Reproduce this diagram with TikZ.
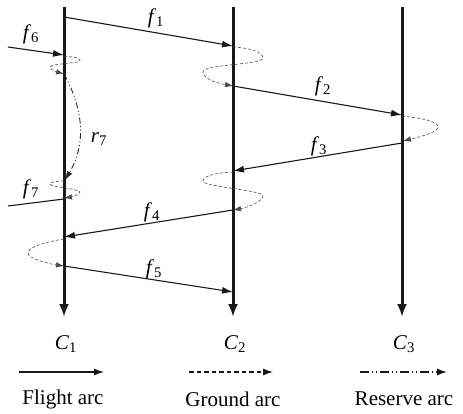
\documentclass[tikz,border=0pt]{standalone}
\usepackage{fontspec}
\setmainfont{Liberation Serif}
\usetikzlibrary{arrows.meta}
\newcommand\lbl[2]{\textit{#1}\textsubscript{#2}}
\begin{document}
\begin{tikzpicture}[x=1pt,y=1pt,
  axisline/.style={line width=3pt,draw=black!90,-{Latex[length=13pt,width=10pt]}},
  flight/.style={line width=1.1pt,draw=black!90,-{Latex[length=11pt,width=7pt]}},
  flightplain/.style={line width=1.1pt,draw=black!90},
  ground/.style={line width=0.6pt,draw=black!70,dash pattern=on 3pt off 2pt,-{Latex[length=8pt,width=5.5pt]}},
  reserve/.style={line width=0.9pt,draw=black!85,dash pattern=on 6pt off 2.5pt on 1pt off 2.5pt on 1pt off 2.5pt,-{Latex[length=9pt,width=6pt]}},
  lab/.style={font=\fontsize{21}{24}\selectfont,inner sep=0pt},
  legline/.style={line width=1.2pt,draw=black!90,-{Latex[length=10pt,width=7pt]}}]
\useasboundingbox (0,0) rectangle (463,-414);
% vertical time lines
\coordinate (t1) at (64,-7);  \coordinate (b1) at (64,-317);
\coordinate (t2) at (233,-7); \coordinate (b2) at (233,-317);
\coordinate (t3) at (402,-7); \coordinate (b3) at (402,-317);
\draw[axisline] (t1) -- (b1);
\draw[axisline] (t2) -- (b2);
\draw[axisline] (t3) -- (b3);
% points
\coordinate (a1) at (64,-17);  \coordinate (a2) at (233,-46);
\coordinate (s6) at (8,-47);   \coordinate (e6) at (64,-55);
\coordinate (g1s) at (64,-56); \coordinate (g1e) at (64,-74);
\coordinate (r7e) at (65,-180);
\coordinate (g2s) at (64,-181); \coordinate (g2e) at (64,-198);
\coordinate (s7) at (8,-206);  \coordinate (e7) at (64,-199);
\coordinate (c2a) at (233,-47); \coordinate (c2b) at (233,-86);
\coordinate (d2) at (402,-115);
\coordinate (c3a) at (402,-116); \coordinate (c3b) at (403,-141);
\coordinate (s3) at (402,-143); \coordinate (e3) at (233,-171);
\coordinate (c2c) at (233,-172); \coordinate (c2d) at (233,-210);
\coordinate (e4) at (64,-237);
\coordinate (c1c) at (64,-239); \coordinate (c1d) at (64,-266);
\coordinate (e5) at (233,-292);
% flight arcs
\draw[flight] (a1) -- (a2);
\draw[flight] (s6) -- (e6);
\draw[flight] (c2b) -- (d2);
\draw[flight] (s3) -- (e3);
\draw[flight] (c2d) -- (e4);
\draw[flight] (c1d) -- (e5);
\draw[flightplain] (s7) -- (e7);
% ground arcs
\draw[ground] (g1s) .. controls (72,-57) and (80,-57.5) .. (80,-60.5)
  .. controls (80,-63.5) and (50,-63.5) .. (50,-67)
  .. controls (50,-70) and (57,-72) .. (g1e);
\draw[ground] (c2a) .. controls (250,-48) and (263,-52) .. (263,-58)
  .. controls (263,-65) and (203,-64) .. (203,-72)
  .. controls (203,-80) and (222,-84) .. (c2b);
\draw[ground] (c3a) .. controls (420,-118) and (438,-121) .. (438,-127)
  .. controls (438,-133) and (415,-138) .. (c3b);
\draw[ground] (c2c) .. controls (215,-173) and (203,-176) .. (203,-181)
  .. controls (203,-187) and (263,-190) .. (263,-196)
  .. controls (263,-202) and (245,-208) .. (c2d);
\draw[ground] (g2s) .. controls (57,-181) and (50,-182) .. (50,-184)
  .. controls (50,-187) and (80,-189) .. (80,-192)
  .. controls (80,-194.5) and (71,-197) .. (g2e);
\draw[ground] (c1c) .. controls (45,-242) and (28,-247) .. (28,-253)
  .. controls (28,-259) and (50,-264) .. (c1d);
% reserve arc
\draw[reserve] (g1e) .. controls (84,-110) and (86,-145) .. (r7e);
% labels
\node[lab] (lf1) at (156,-18) {\lbl{f}{1}};
\node[lab] (lf2) at (323,-86) {\lbl{f}{2}};
\node[lab] (lf3) at (319,-146) {\lbl{f}{3}};
\node[lab] (lf4) at (152,-212) {\lbl{f}{4}};
\node[lab] (lf5) at (154,-269) {\lbl{f}{5}};
\node[lab] (lf6) at (31,-34) {\lbl{f}{6}};
\node[lab] (lf7) at (31,-189) {\lbl{f}{7}};
\node[lab] (lr7) at (99,-139) {\lbl{r}{7}};
\node[lab] (lc1) at (66,-344) {\lbl{C}{1}};
\node[lab] (lc2) at (235,-344) {\lbl{C}{2}};
\node[lab] (lc3) at (404,-344) {\lbl{C}{3}};
% legend
\coordinate (l1s) at (19,-372);  \coordinate (l1e) at (104,-372);
\coordinate (l2s) at (189,-372); \coordinate (l2e) at (273,-372);
\coordinate (l3s) at (360,-372); \coordinate (l3e) at (447,-372);
\draw[legline] (l1s) -- (l1e);
\draw[legline,dash pattern=on 4.5pt off 3pt] (l2s) -- (l2e);
\draw[legline,dash pattern=on 9pt off 3pt on 1pt off 3pt on 1pt off 3pt] (l3s) -- (l3e);
\node[lab] (t1l) at (63,-399) {Flight arc};
\node[lab] (t2l) at (233,-399) {Ground arc};
\node[lab] (t3l) at (404,-399) {Reserve arc};
\end{tikzpicture}
\end{document}
